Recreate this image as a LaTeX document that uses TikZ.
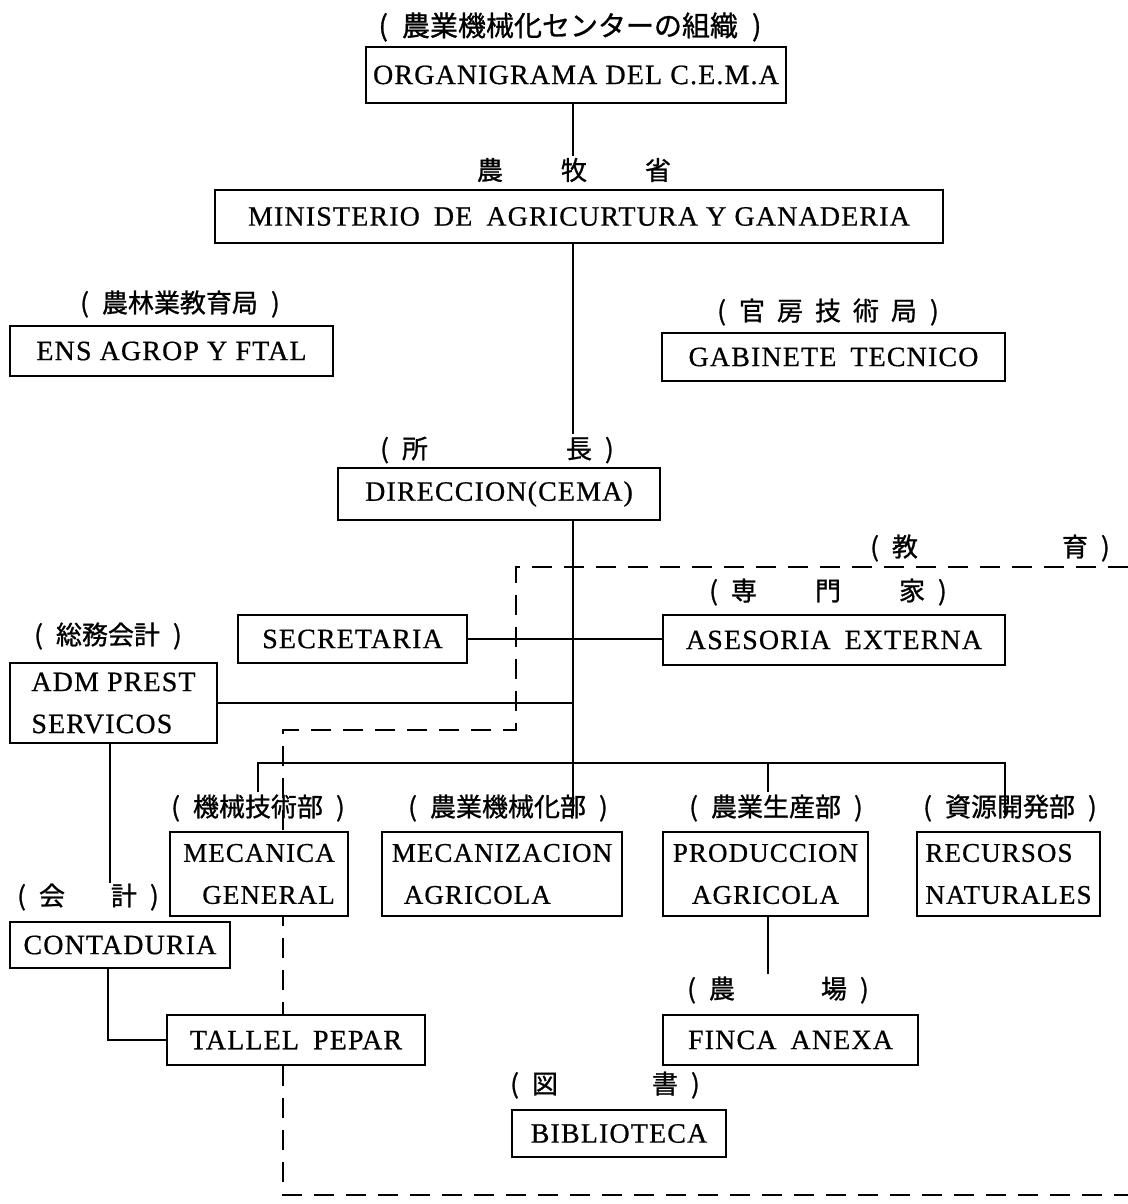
\documentclass[tikz,border=0pt]{standalone}
\usepackage{fontspec}
\setmainfont{Liberation Serif}[LetterSpace=4,FakeBold=0.6]
\newfontfamily\jp{Noto Sans CJK JP}[FakeBold=1]
\usetikzlibrary{positioning}

\begin{document}
\begin{tikzpicture}[x=0.5pt,y=-0.5pt,
  box/.style={draw,line width=1pt,fill=white,inner sep=0pt,
    font=\fontsize{14}{21}\selectfont},
  lbl/.style={inner sep=1pt,font=\jp\fontsize{13}{15}\selectfont},
  conn/.style={line width=1pt},
  edu/.style={line width=1pt,dash pattern=on 10pt off 6pt}]

\fill[white] (0,0) rectangle (1128,1204);
\useasboundingbox (0,0) rectangle (1128,1204);

% education (dashed)
\draw[edu] (1128,567) -- (516,567) -- (516,730) -- (283,730) -- (283,1195) -- (1128,1195);

% labels
\node[lbl,font=\jp\fontsize{14}{16}\selectfont] (ttl) at (570,27) {(\enspace 農業機械化センターの組織\enspace)};
\node[lbl] (nbs) at (574,170) {農\hspace{29pt}牧\hspace{29pt}省};
\node[lbl] (nkk) at (180,304) {(\enspace 農林業教育局\enspace)};
\node[lbl] (kbg) at (828,312) {(\enspace 官\hspace{6pt}房\hspace{6pt}技\hspace{6pt}術\hspace{6pt}局\enspace)};
\node[lbl] (sch) at (497,450) {(\enspace 所\hspace{69pt}長\enspace)};
\node[lbl] (kyo) at (990,548) {(\enspace 教\hspace{72pt}育\enspace)};
\node[lbl] (smk) at (828,592) {(\enspace 専\hspace{29pt}門\hspace{29pt}家\enspace)};
\node[lbl] (skk) at (108,636) {(\enspace 総務会計\enspace)};
\node[lbl] (kgb) at (258,808) {(\enspace 機械技術部\enspace)};
\node[lbl] (nkb) at (508,808) {(\enspace 農業機械化部\enspace)};
\node[lbl] (nsb) at (776,808) {(\enspace 農業生産部\enspace)};
\node[lbl] (sgb) at (1010,808) {(\enspace 資源開発部\enspace)};
\node[lbl] (kai) at (88,897) {(\enspace 会\hspace{23pt}計\enspace)};
\node[lbl] (njo) at (778,990) {(\enspace 農\hspace{43pt}場\enspace)};
\node[lbl] (tsh) at (605,1085) {(\enspace 図\hspace{47pt}書\enspace)};

% boxes
\node[box,minimum width=210pt,minimum height=28pt] (org) at (576,75) {ORGANIGRAMA DEL C.E.M.A};
\node[box,minimum width=364pt,minimum height=26.5pt] (min) at (579,216.5) {MINISTERIO\enspace DE\enspace AGRICURTURA Y GANADERIA};
\node[box,minimum width=161.5pt,minimum height=25pt] (ens) at (171.5,351) {ENS AGROP Y FTAL};
\node[box,minimum width=171.5pt,minimum height=24pt] (gab) at (833.5,357) {GABINETE\enspace TECNICO};
\node[box,minimum width=161pt,minimum height=26pt] (dir) at (499,494) {DIRECCION(CEMA)};
\node[box,minimum width=114.5pt,minimum height=24pt] (sec) at (352.5,639) {SECRETARIA};
\node[box,minimum width=171pt,minimum height=25pt] (ase) at (834,640) {ASESORIA\enspace EXTERNA};
\node[box,minimum width=103.5pt,minimum height=40pt,align=left] (adm) at (113.5,703) {ADM PREST\\SERVICOS};
\node[box,minimum width=89pt,minimum height=42pt,align=right,font=\fontsize{13.5}{21}\selectfont] (mec) at (259,874) {MECANICA\\GENERAL};
\node[box,minimum width=120pt,minimum height=42pt,align=left,font=\fontsize{13.5}{21}\selectfont] (mcz) at (502,874) {MECANIZACION\\\hspace{6pt}AGRICOLA};
\node[box,minimum width=102.5pt,minimum height=42pt,align=center,font=\fontsize{13.5}{21}\selectfont] (pro) at (765.5,874) {PRODUCCION\\AGRICOLA};
\node[box,minimum width=91.5pt,minimum height=42pt,align=left,font=\fontsize{13.5}{21}\selectfont] (rec) at (1008.5,874) {RECURSOS\\NATURALES};
\node[box,minimum width=110pt,minimum height=23pt] (con) at (120,945) {CONTADURIA};
\node[box,minimum width=129pt,minimum height=25pt] (tal) at (296,1040) {TALLEL\enspace PEPAR};
\node[box,minimum width=127.5pt,minimum height=25pt] (fin) at (790.5,1040) {FINCA\enspace ANEXA};
\node[box,minimum width=107pt,minimum height=23.5pt] (bib) at (619,1133.5) {BIBLIOTECA};

% connectors
\coordinate (spine) at (573,763);
\coordinate (busL) at (258,763);
\coordinate (busR) at (1005,763);
\coordinate (busP) at (768,763);

\draw[conn] (org.south -| spine) -- (nbs.north -| spine);
\draw[conn] (min.south -| spine) -- (sch.north -| spine);
\draw[conn] (dir.south -| spine) -- ++(0,295);
\draw[conn] (kgb.north -| busL) -- (busL) -- (busR) -- ++(0,52);
\draw[conn] (busP) -- (nsb.north -| busP);
\draw[conn] (sec.east) -- (sec.east -| ase.west);
\draw[conn] (adm.east) -- (adm.east -| spine);
\draw[conn] (adm.south -| kai.north) ++(22,0) -- ++(0,139);
\draw[conn] (con.south -| kai.north) ++(20,0) |- (tal.west);
\draw[conn] (pro.south -| busP) -- (njo.north -| busP);
\end{tikzpicture}
\end{document}
